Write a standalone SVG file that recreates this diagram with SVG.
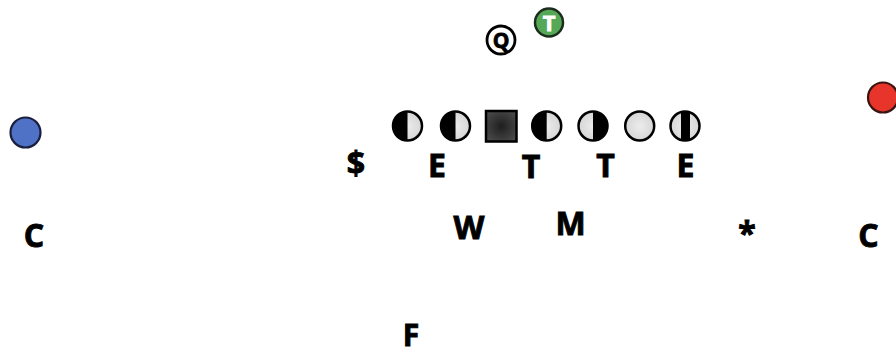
<svg xmlns="http://www.w3.org/2000/svg" width="896" height="354" viewBox="0 0 896 354">
  <defs>
    <radialGradient id="lightFill" cx="50%" cy="50%" r="50%">
      <stop offset="0%" stop-color="#ececec"/>
      <stop offset="100%" stop-color="#d6d6d6"/>
    </radialGradient>
    <radialGradient id="darkFill" cx="50%" cy="50%" r="60%">
      <stop offset="0%" stop-color="#1e1e1e"/>
      <stop offset="100%" stop-color="#4a4a4a"/>
    </radialGradient>
  </defs>
  <style>
    .lbl { font-family: "Open Sans", "Liberation Sans", sans-serif; font-weight: 700; font-size: 32px; fill: #000; stroke: #000; stroke-width: 0.9; text-anchor: middle; }
    .ring { fill: none; stroke: #000; stroke-width: 2.5; }
    .light { fill: url(#lightFill); }
    .blk { fill: #000; }
  </style>
  <rect width="896" height="354" fill="#fff"/>
  <g id="connectors"/>

  <g id="node-Q">
    <circle cx="501" cy="40" r="14" fill="#fff" stroke="#000" stroke-width="2.8"/>
    <text x="501" y="47.5" class="lbl" style="font-size:21px;stroke-width:0.8">Q</text>
  </g>
  <g id="node-T-top">
    <circle cx="549" cy="22.5" r="14" fill="#55a855" stroke="#1d2d1d" stroke-width="2.5"/>
    <text x="549" y="30.5" class="lbl" style="font-size:22px;fill:#fff;stroke:#fff;stroke-width:0.8">T</text>
  </g>

  <g id="node-blue">
    <circle cx="25.5" cy="132.5" r="15" fill="#4f72c6" stroke="#1a1f3d" stroke-width="2.2"/>
  </g>
  <g id="node-red">
    <circle cx="883" cy="97.5" r="15" fill="#e8352b" stroke="#3a1410" stroke-width="2.2"/>
  </g>

  <g id="node-L1">
    <circle cx="407.5" cy="126" r="14.5" class="light"/>
    <path d="M407.5 111.5 A14.5 14.5 0 0 0 407.5 140.5 Z" class="blk"/>
    <circle cx="407.5" cy="126" r="14.5" class="ring"/>
  </g>
  <g id="node-L2">
    <circle cx="455.5" cy="126" r="14.5" class="light"/>
    <path d="M455.5 111.5 A14.5 14.5 0 0 0 455.5 140.5 Z" class="blk"/>
    <circle cx="455.5" cy="126" r="14.5" class="ring"/>
  </g>
  <g id="node-center">
    <rect x="486" y="111" width="30.5" height="30.5" fill="url(#darkFill)" stroke="#000" stroke-width="2.5"/>
  </g>
  <g id="node-R1">
    <circle cx="546.7" cy="126" r="14.5" class="light"/>
    <path d="M546.7 111.5 A14.5 14.5 0 0 0 546.7 140.5 Z" class="blk"/>
    <circle cx="546.7" cy="126" r="14.5" class="ring"/>
  </g>
  <g id="node-R2">
    <circle cx="593" cy="126" r="14.5" class="light"/>
    <path d="M593 111.5 A14.5 14.5 0 0 1 593 140.5 Z" class="blk"/>
    <circle cx="593" cy="126" r="14.5" class="ring"/>
  </g>
  <g id="node-R3">
    <circle cx="639.7" cy="126" r="14.5" class="light"/>
    <circle cx="639.7" cy="126" r="14.5" class="ring"/>
  </g>
  <g id="node-R4">
    <circle cx="685" cy="126" r="14.5" class="light"/>
    <rect x="681" y="111" width="9" height="30" class="blk"/>
    <circle cx="685" cy="126" r="14.5" class="ring"/>
  </g>

  <g id="label-dollar"><text x="356" y="175" class="lbl">$</text></g>
  <g id="label-E1"><text x="437" y="176.5" class="lbl">E</text></g>
  <g id="label-T1"><text x="531" y="177.5" class="lbl">T</text></g>
  <g id="label-T2"><text x="605.5" y="177" class="lbl">T</text></g>
  <g id="label-E2"><text x="685.5" y="177" class="lbl">E</text></g>

  <g id="label-W"><text x="469" y="239" class="lbl">W</text></g>
  <g id="label-M"><text x="570.5" y="235" class="lbl">M</text></g>
  <g id="label-C-left"><text x="34" y="247" class="lbl">C</text></g>
  <g id="label-C-right"><text x="868.5" y="247" class="lbl">C</text></g>
  <g id="label-star"><text x="747" y="245" class="lbl">*</text></g>
  <g id="label-F"><text x="411" y="345.5" class="lbl" style="font-size:30px">F</text></g>
</svg>
